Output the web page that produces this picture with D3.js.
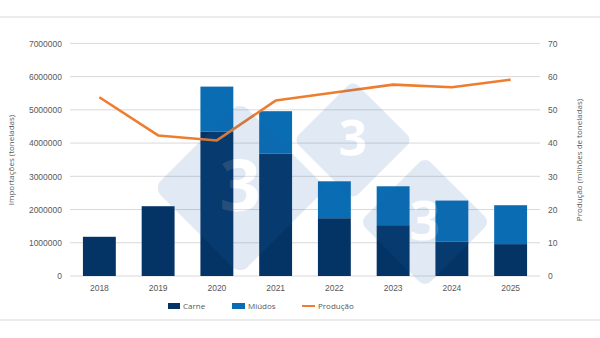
<!DOCTYPE html>
<html><head><meta charset="utf-8">
<script src="https://cdn.jsdelivr.net/npm/d3@7"></script>
<style>body{margin:0;background:#fff}svg{display:block;font-family:"Open Sans",sans-serif}</style>
</head><body><svg id="c" width="600" height="338"></svg>
<script>
const years = ["2018","2019","2020","2021","2022","2023","2024","2025"];
const carne = [1180000,2100000,4350000,3680000,1740000,1530000,1030000,960000];
const miudos = [0,0,1350000,1280000,1110000,1170000,1240000,1170000];
const producao = [53.8,42.3,40.8,52.8,55.2,57.6,56.8,59.1];
const leftTicks = [0,1000000,2000000,3000000,4000000,5000000,6000000,7000000];
const rightTicks = [0,10,20,30,40,50,60,70];

const svg = d3.select("#c");
const W=600,H=338, x0=70, x1=540, yTop=43.4, yBot=276;
const x = d3.scaleBand().domain(years).range([x0,x1]).paddingInner(0.44).paddingOuter(0.22);
const yL = d3.scaleLinear().domain([0,7000000]).range([yBot,yTop]);
const yR = d3.scaleLinear().domain([0,70]).range([yBot,yTop]);
const grey="#595959";

svg.append("rect").attr("x",0).attr("y",16).attr("width",W).attr("height",2).attr("fill","#ececec");
svg.append("rect").attr("x",0).attr("y",319).attr("width",W).attr("height",2).attr("fill","#ececec");

// gridlines
svg.append("g").selectAll("line").data(leftTicks).join("line")
  .attr("x1",x0).attr("x2",x1).attr("y1",d=>yL(d)).attr("y2",d=>yL(d))
  .attr("stroke","#d9d9d9").attr("stroke-width",1);

const la = svg.append("g").attr("transform",`translate(${x0},0)`)
  .call(d3.axisLeft(yL).tickValues(leftTicks).tickFormat(d3.format("d")).tickSize(0).tickPadding(8));
la.select(".domain").remove();
la.selectAll("text").attr("fill",grey).style("font-size","8.5px");

const ra = svg.append("g").attr("transform",`translate(${x1},0)`)
  .call(d3.axisRight(yR).tickValues(rightTicks).tickSize(0).tickPadding(8));
ra.select(".domain").remove();
ra.selectAll("text").attr("fill",grey).style("font-size","8.5px");

const ba = svg.append("g").attr("transform",`translate(0,${yBot})`)
  .call(d3.axisBottom(x).tickSize(0).tickPadding(9));
ba.select(".domain").remove();
ba.selectAll("text").attr("fill",grey).style("font-size","8.5px");

// bars
const stack = years.map((y,i)=>({y, c:carne[i], m:miudos[i]}));
svg.append("g").selectAll("rect").data(stack).join("rect")
  .attr("x",d=>x(d.y)).attr("width",x.bandwidth())
  .attr("y",d=>yL(d.c)).attr("height",d=>yBot-yL(d.c)).attr("fill","#043465");
svg.append("g").selectAll("rect").data(stack.filter(d=>d.m>0)).join("rect")
  .attr("x",d=>x(d.y)).attr("width",x.bandwidth())
  .attr("y",d=>yL(d.c+d.m)).attr("height",d=>yL(d.c)-yL(d.c+d.m)).attr("fill","#0a6cb2");

// line
const line = d3.line().x((d,i)=>x(years[i])+x.bandwidth()/2).y(d=>yR(d));
svg.append("path").datum(producao).attr("d",line).attr("fill","none")
  .attr("stroke","#ee7d2f").attr("stroke-width",2.6).attr("stroke-linejoin","round");

// watermark
const wm = svg.append("g").attr("opacity",0.13);
[[240,188,90],[353,140,62],[425,222,68]].forEach(([cx,cy,r])=>{
  wm.append("rect").attr("x",cx-r*0.68).attr("y",cy-r*0.68).attr("width",r*1.36).attr("height",r*1.36)
    .attr("rx",r*0.12).attr("fill","#1f64b0").attr("transform",`rotate(45,${cx},${cy})`);
  wm.append("text").attr("x",cx).attr("y",cy+r*0.26).attr("text-anchor","middle")
    .attr("font-weight","bold").attr("font-size",r*0.8).attr("fill","#ffffff").text("3");
});

// axis titles
svg.append("text").attr("transform","translate(14,160) rotate(-90)").attr("text-anchor","middle")
  .attr("fill",grey).style("font-size","8px").text("Importações (toneladas)");
svg.append("text").attr("transform","translate(582,160) rotate(-90)").attr("text-anchor","middle")
  .attr("fill",grey).style("font-size","8px").text("Produção (milhões de toneladas)");

// legend
const lg = svg.append("g").style("font-size","8px");
lg.append("rect").attr("x",168).attr("y",303).attr("width",12).attr("height",6).attr("fill","#043465");
lg.append("text").attr("x",183).attr("y",309).attr("fill",grey).text("Carne");
lg.append("rect").attr("x",232).attr("y",303).attr("width",13).attr("height",6).attr("fill","#0a6cb2");
lg.append("text").attr("x",248).attr("y",309).attr("fill",grey).text("Miúdos");
lg.append("line").attr("x1",302).attr("x2",315).attr("y1",306).attr("y2",306).attr("stroke","#ee7d2f").attr("stroke-width",2);
lg.append("text").attr("x",318).attr("y",309).attr("fill",grey).text("Produção");
</script></body></html>
